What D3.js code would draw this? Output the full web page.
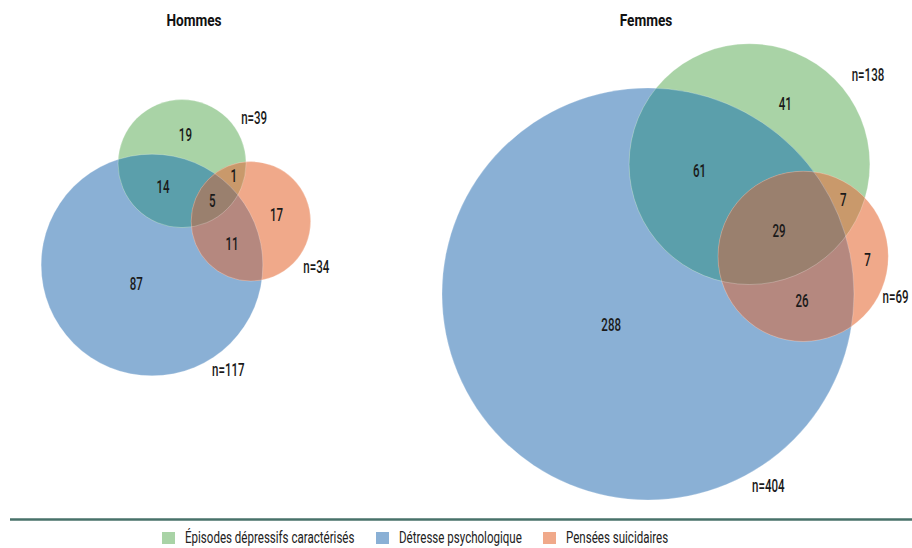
<!DOCTYPE html>
<html>
<head>
<meta charset="utf-8">
<script src="https://cdn.jsdelivr.net/npm/d3@7"></script>
<style>
  body { margin: 0; background: #fff; }
  text { font-family: Roboto, "Liberation Sans", sans-serif; }
</style>
</head>
<body>
<svg id="chart" width="912" height="548"></svg>
<script>
(function () {

  // data
  var groups = ["Hommes", "Femmes"];
  var setNames = ["Épisodes dépressifs caractérisés", "Détresse psychologique", "Pensées suicidaires"];
  var setKeys = ["dep", "det", "pen"];
  // regions: dep only, det only, pen only, dep+det, dep+pen, det+pen, all three
  var regionSets = [[1,0,0],[0,1,0],[0,0,1],[1,1,0],[1,0,1],[0,1,1],[1,1,1]];
  var hommesRegions = [19, 87, 17, 14, 1, 11, 5];
  var femmesRegions = [41, 288, 7, 61, 7, 26, 29];
  var hommesTotals = [39, 117, 34];
  var femmesTotals = [138, 404, 69];

  var regionData = { Hommes: hommesRegions, Femmes: femmesRegions };
  var totalData = { Hommes: hommesTotals, Femmes: femmesTotals };

  // styles / layout
  var baseColors = ["#a9d3a6", "#8ab0d5", "#f0a98a"];
  var colDepDet = "#5b9fab", colDepPen = "#c9996b", colDetPen = "#b5887f", colAll = "#9a806e";
  var squeeze = 0.64;  // the original font is a condensed one

  var layout = {
    Hommes: { titleX: 194, anchor: [152, 265], angle: -73.5,
              nAngle: [-32, 54, 35], nPad: [21, 19, 20] },
    Femmes: { titleX: 646, anchor: [648, 294], angle: -52,
              nAngle: [-37, 58, 24], nPad: [28, 21, 16] }
  };

  var svg = d3.select("#chart");
  var defs = svg.append("defs");

  var r = d3.scaleSqrt().domain([0, 404]).range([0, 206]);
  var unitArea = Math.PI * Math.pow(r(1), 2);

  function lensArea(r1, r2, d) {
    if (d >= r1 + r2) return 0;
    if (d <= Math.abs(r1 - r2)) return Math.PI * Math.pow(Math.min(r1, r2), 2);
    var a = r1 * r1 * Math.acos((d * d + r1 * r1 - r2 * r2) / (2 * d * r1));
    var b = r2 * r2 * Math.acos((d * d + r2 * r2 - r1 * r1) / (2 * d * r2));
    var c = 0.5 * Math.sqrt((-d + r1 + r2) * (d + r1 - r2) * (d - r1 + r2) * (d + r1 + r2));
    return a + b - c;
  }

  function distanceFor(r1, r2, area) {
    var lo = Math.abs(r1 - r2), hi = r1 + r2;
    for (var i = 0; i < 60; i++) {
      var mid = (lo + hi) / 2;
      if (lensArea(r1, r2, mid) > area) lo = mid; else hi = mid;
    }
    return (lo + hi) / 2;
  }

  function inside(c, x, y) {
    var dx = x - c.x, dy = y - c.y;
    return dx * dx + dy * dy <= c.r * c.r;
  }

  function centroid(circles, member) {
    var ins = circles.filter(function (c, i) { return member[i]; });
    var c0 = ins.reduce(function (a, b) { return a.r < b.r ? a : b; });
    var sx = 0, sy = 0, n = 0;
    for (var x = c0.x - c0.r; x <= c0.x + c0.r; x += 1) {
      for (var y = c0.y - c0.r; y <= c0.y + c0.r; y += 1) {
        var ok = true;
        for (var i = 0; i < circles.length; i++) {
          if (inside(circles[i], x, y) != !!member[i]) { ok = false; break; }
        }
        if (ok) { sx += x; sy += y; n++; }
      }
    }
    return [sx / n, sy / n];
  }

  // condensed text helper
  function label(parent, x, y, txt, size, anchor, sx) {
    return parent.append("text")
      .attr("transform", "translate(" + x + "," + y + ") scale(" + (sx || squeeze) + ",1)")
      .attr("text-anchor", anchor || "middle")
      .attr("dominant-baseline", "central")
      .attr("font-size", size)
      .attr("font-weight", 500)
      .attr("fill", "#1a1a1a")
      .text(txt);
  }

  groups.forEach(function (g) {
    var reg = regionData[g], tot = totalData[g], lay = layout[g];
    var rad = tot.map(function (t) { return r(t); });

    // pairwise overlaps
    var oDepDet = reg[3] + reg[6], oDepPen = reg[4] + reg[6], oDetPen = reg[5] + reg[6];
    var dGB = distanceFor(rad[0], rad[1], oDepDet * unitArea);
    var dGO = distanceFor(rad[0], rad[2], oDepPen * unitArea);
    var dBO = distanceFor(rad[1], rad[2], oDetPen * unitArea);

    var th = lay.angle * Math.PI / 180;
    var ux = Math.cos(th), uy = Math.sin(th);
    var blue = { x: lay.anchor[0], y: lay.anchor[1], r: rad[1] };
    var green = { x: blue.x + dGB * ux, y: blue.y + dGB * uy, r: rad[0] };
    var a = (dBO * dBO - dGO * dGO + dGB * dGB) / (2 * dGB);
    var h = Math.sqrt(Math.max(0, dBO * dBO - a * a));
    var orange = { x: blue.x + a * ux - h * uy, y: blue.y + a * uy + h * ux, r: rad[2] };
    var circles = [green, blue, orange];

    var grp = svg.append("g").attr("class", g);

    setKeys.forEach(function (k, i) {
      defs.append("clipPath").attr("id", "clip-" + k + "-" + g)
        .append("circle")
        .attr("cx", circles[i].x).attr("cy", circles[i].y).attr("r", circles[i].r);
    });

    // base circles
    [1, 0, 2].forEach(function (i) {
      grp.append("circle")
        .attr("cx", circles[i].x).attr("cy", circles[i].y).attr("r", circles[i].r)
        .attr("fill", baseColors[i]);
    });

    function overlap(shapeIdx, clipKeys, color) {
      var parent = grp;
      clipKeys.slice(1).forEach(function (k) {
        parent = parent.append("g").attr("clip-path", "url(#clip-" + k + "-" + g + ")");
      });
      parent.append("circle")
        .attr("cx", circles[shapeIdx].x).attr("cy", circles[shapeIdx].y).attr("r", circles[shapeIdx].r)
        .attr("clip-path", "url(#clip-" + clipKeys[0] + "-" + g + ")")
        .attr("fill", color);
    }
    overlap(0, ["det"], colDepDet);
    overlap(2, ["dep"], colDepPen);
    overlap(2, ["det"], colDetPen);
    overlap(2, ["dep", "det"], colAll);

    // thin edges
    grp.selectAll("circle.edge")
      .data(circles)
      .enter()
        .append("circle")
        .attr("class", "edge")
        .attr("cx", function (d) { return d.x; })
        .attr("cy", function (d) { return d.y; })
        .attr("r", function (d) { return d.r; })
        .attr("fill", "none")
        .attr("stroke", "#fff")
        .attr("stroke-opacity", 0.3)
        .attr("stroke-width", 0.8);

    // region labels
    regionSets.forEach(function (m, i) {
      var p = centroid(circles, m);
      label(grp, p[0], p[1], reg[i], 18);
    });

    // n labels
    circles.forEach(function (c, i) {
      var an = lay.nAngle[i] * Math.PI / 180, dist = c.r + lay.nPad[i];
      label(grp, c.x + dist * Math.cos(an), c.y + dist * Math.sin(an), "n=" + tot[i], 18);
    });

    // title
    label(svg, lay.titleX, 20, g, 17, "middle", 0.8)
      .attr("font-weight", "bold")
      .attr("fill", "#111");
  });

  // bottom rule
  svg.append("line")
    .attr("x1", 10).attr("x2", 912)
    .attr("y1", 519.5).attr("y2", 519.5)
    .attr("stroke", "#48726a")
    .attr("stroke-width", 2.5);

  // legend
  var legendX = [162, 376, 543];
  var legend = svg.append("g").attr("class", "legend");
  setNames.forEach(function (name, i) {
    legend.append("rect")
      .attr("x", legendX[i]).attr("y", 532)
      .attr("width", 13).attr("height", 12)
      .attr("fill", baseColors[i]);
    label(legend, legendX[i] + 23, 538, name, 17, "start", 0.68)
      .attr("font-weight", 400)
      .attr("fill", "#222");
  });

})();
</script>
</body>
</html>
